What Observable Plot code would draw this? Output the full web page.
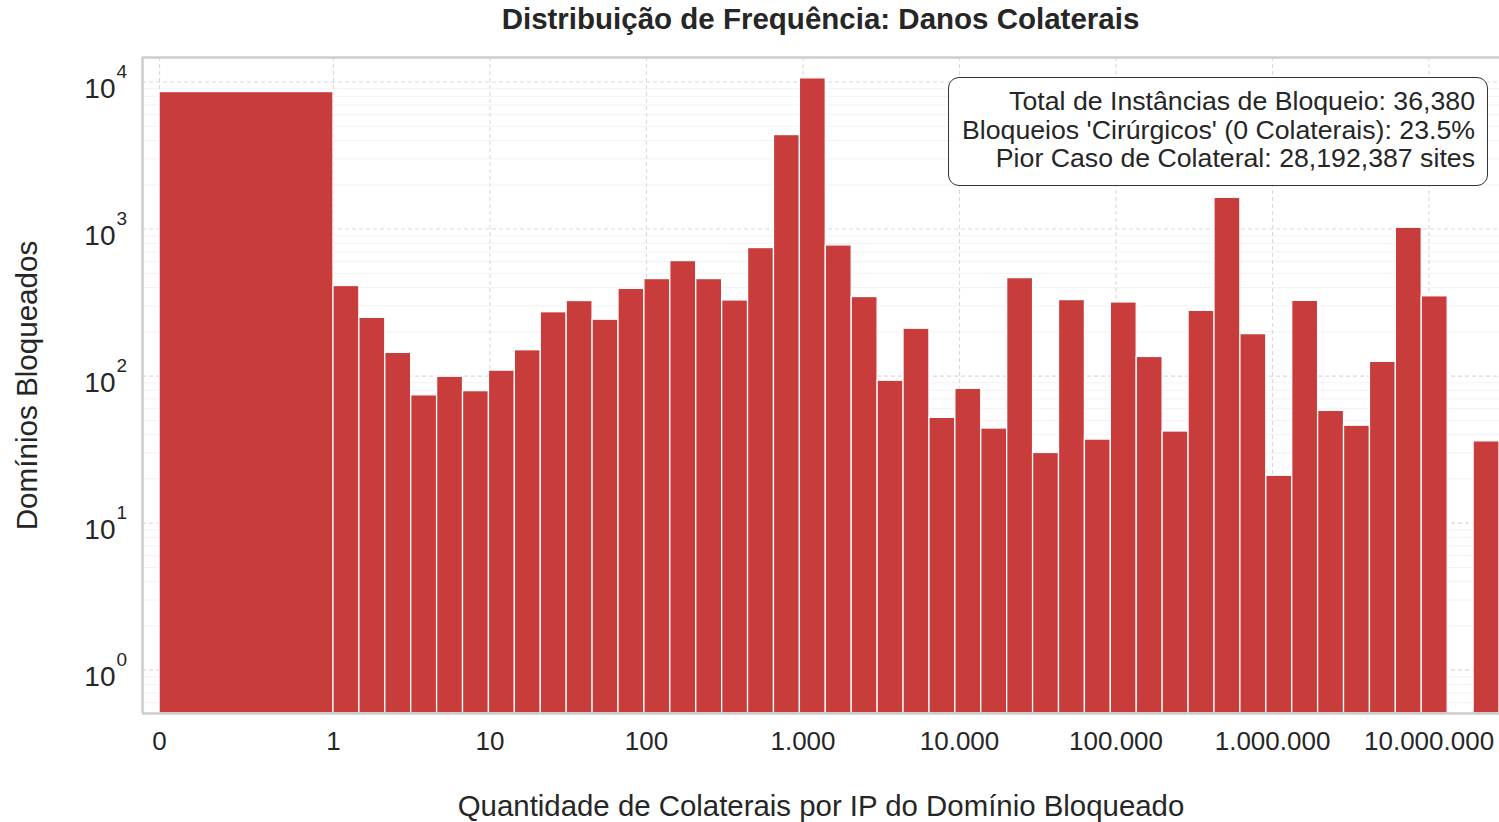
<!DOCTYPE html>
<html><head><meta charset="utf-8">
<script src="https://cdn.jsdelivr.net/npm/d3@7"></script>
<script src="https://cdn.jsdelivr.net/npm/@observablehq/plot@0.6"></script>
<style>
body{margin:0;background:#fff;font-family:"Liberation Sans",Arial,sans-serif;color:#262626;}
#wrap{position:relative;width:1499px;height:822px;overflow:hidden;background:#fff;}
#title{height:40px;line-height:38px;padding-left:142px;width:1357px;text-align:center;font-weight:bold;font-size:29.5px;color:#262626;}
#box{position:absolute;left:948px;top:77px;width:514px;height:98px;padding:9px 12px 0 12px;border:1.6px solid #333;border-radius:11px;background:rgba(255,255,255,0.92);text-align:right;font-size:26.7px;line-height:28.5px;box-sizing:content-box;color:#262626;}
</style></head><body>
<div id="wrap">
<div id="title">Distribuição de Frequência: Danos Colaterais</div>
<div id="chart"></div>
<div id="box"></div>
</div>
<script>
// ---- data ----
const maxValue = 28192387;           // worst case (bin upper edge)
const totalBlocks = 36380;
const zeroPct = 23.5;
const zeroCount = 8549;              // bin [0, 1)
const binCounts = [410,249,144,74,99,79,109,150,272,324,242,392,457,606,457,327,743,4360,10600,774,
                   345,93,210,52,82,44,464,30,329,37,317,135,42,278,1632,193,21,325,58,46,125,1021,349,0,36];
const xTickValues = [0,1,10,100,1000,10000,100000,1000000,10000000];
const xTickLabels = ["0","1","10","100","1.000","10.000","100.000","1.000.000","10.000.000"];
const yTickValues = [1,10,100,1000,10000];
const yTickExponents = ["0","1","2","3","4"];
const boxLines = [
  "Total de Instâncias de Bloqueio: 36,380",
  "Bloqueios 'Cirúrgicos' (0 Colaterais): 23.5%",
  "Pior Caso de Colateral: 28,192,387 sites"
];
const title = "Distribuição de Frequência: Danos Colaterais";
const xLabel = "Quantidade de Colaterais por IP do Domínio Bloqueado";
const yLabel = "Domínios Bloqueados";

// ---- matplotlib-style symlog (linthresh=1, linscale=1, base 10) ----
const T = v => v <= 1 ? v / 0.9 : 1 / 0.9 + Math.log10(v);

// histogram bins: [0,1) then 45 log-spaced bins from 1 to maxValue
const nb = binCounts.length;
const L = Math.log10(maxValue);
const bins = [{lo: 0, hi: 1, n: zeroCount}].concat(
  binCounts.map((n, k) => ({lo: Math.pow(10, k * L / nb), hi: Math.pow(10, (k + 1) * L / nb), n}))
).filter(d => d.n > 0);

const yMin = 0.507, yMax = 14690;
const xMin = -0.109, xMax = T(maxValue);

const minorY = [];
for (let e = -1; e <= 4; e++) for (let m = 2; m <= 9; m++) {
  const v = m * Math.pow(10, e);
  if (v > yMin && v < yMax) minorY.push(v);
}

const gridStroke = "#d9d9d9";
const txt = "#262626";
const chart = Plot.plot({
  width: 1499, height: 782,
  marginLeft: 142, marginRight: 0, marginTop: 17, marginBottom: 109,
  style: {fontFamily: '"Liberation Sans", Arial, sans-serif', background: "white", color: txt, overflow: "visible"},
  x: {type: "linear", domain: [xMin, xMax], axis: null},
  y: {type: "log", domain: [yMin, yMax], axis: null},
  marks: [
    Plot.ruleY(minorY, {stroke: "#f2f2f2", strokeWidth: 1}),
    Plot.ruleY(yTickValues, {stroke: gridStroke, strokeWidth: 1.1, strokeDasharray: "4,3"}),
    Plot.ruleX(xTickValues, {x: d => T(d), stroke: gridStroke, strokeWidth: 1.1, strokeDasharray: "4,3"}),
    Plot.rectY(bins, {x1: d => T(d.lo), x2: d => T(d.hi), y1: yMin, y2: "n",
      fill: "#C93C3C", stroke: "white", strokeWidth: 1.3}),
    Plot.ruleX([xMin], {stroke: "#cccccc", strokeWidth: 2.5}),
    Plot.ruleY([yMin, yMax], {stroke: "#cccccc", strokeWidth: 2.5}),
    // y tick labels 10^k
    Plot.text(yTickValues, {y: d => d, text: () => "10", frameAnchor: "left", dx: -27, dy: 7,
      textAnchor: "end", fontSize: 28, fill: txt}),
    Plot.text(yTickValues, {y: d => d, text: (d, i) => yTickExponents[i], frameAnchor: "left", dx: -26, dy: -10,
      textAnchor: "start", fontSize: 19, fill: txt}),
    // x tick labels
    Plot.text(xTickValues, {x: d => T(d), text: (d, i) => xTickLabels[i], frameAnchor: "bottom", dy: 28,
      lineAnchor: "middle", fontSize: 26, fill: txt}),
    // axis labels
    Plot.text([xLabel], {frameAnchor: "bottom", dy: 93, lineAnchor: "middle", fontSize: 29.4, fill: txt}),
    Plot.text([yLabel], {frameAnchor: "left", dx: -115, rotate: -90, lineAnchor: "middle", textAnchor: "middle",
      fontSize: 29.6, fill: txt})
  ]
});
document.getElementById("chart").appendChild(chart);
document.getElementById("title").textContent = title;
document.getElementById("box").innerHTML = boxLines.map(s => `<div>${s}</div>`).join("");
</script>
</body></html>
